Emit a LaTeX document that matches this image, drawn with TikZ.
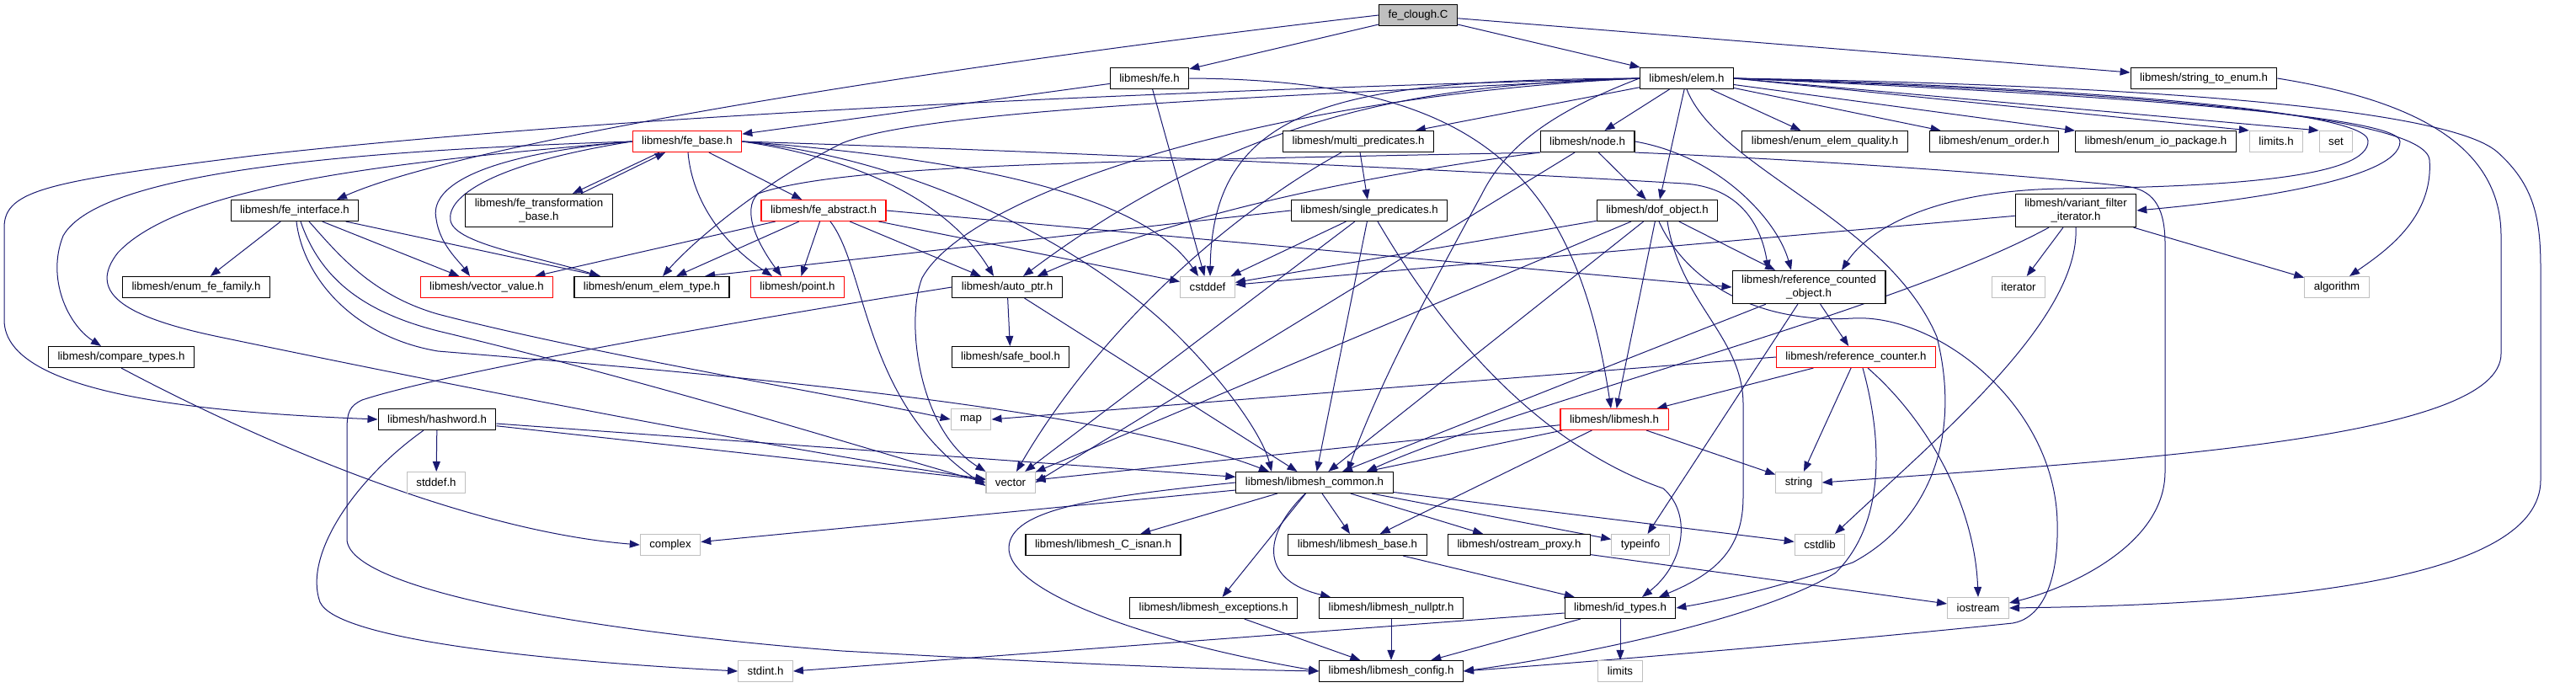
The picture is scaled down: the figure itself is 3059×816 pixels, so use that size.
\documentclass[tikz,border=0pt]{standalone}
\usepackage{fontspec}
\setmainfont{Liberation Sans}
\usepackage{tikz}
\usetikzlibrary{calc, arrows.meta, backgrounds}
\usepackage{xcolor}
\definecolor{edgeNavy}{HTML}{191970}
\definecolor{borderRed}{HTML}{FF0000}
\definecolor{borderGray}{HTML}{BFBFBF}
\definecolor{rootFill}{HTML}{BFBFBF}

\begin{document}
\begin{tikzpicture}[x=1bp, y=-1bp,
    fileBox/.style={draw=black, fill=white, line width=1.1bp, inner xsep=11bp, inner ysep=3bp,
                    minimum height=25bp, align=center, font=\fontsize{13.3}{16}\selectfont},
    redBox/.style={fileBox, draw=borderRed},
    sysBox/.style={fileBox, draw=borderGray},
    rootBox/.style={fileBox, fill=rootFill},
    twoLine/.style={inner ysep=5.5bp},
    dep/.style={draw=edgeNavy, line width=1bp, -{Triangle[length=12bp,width=9bp]}}]
  \useasboundingbox (0,0) rectangle (3059,816);

  \node[rootBox] (clough) at (1684,18) {fe\_clough.C};

  \node[fileBox] (feh) at (1365,93) {libmesh/fe.h};
  \node[fileBox] (elem) at (2003,93) {libmesh/elem.h};
  \node[fileBox] (strenum) at (2617,93) {libmesh/string\_to\_enum.h};

  \node[redBox] (febase) at (816,168) {libmesh/fe\_base.h};
  \node[fileBox] (multipred) at (1613,168) {libmesh/multi\_predicates.h};
  \node[fileBox] (nodeh) at (1885,168) {libmesh/node.h};
  \node[fileBox] (elemqual) at (2167,168) {libmesh/enum\_elem\_quality.h};
  \node[fileBox] (order) at (2368,168) {libmesh/enum\_order.h};
  \node[fileBox] (iopkg) at (2560,168) {libmesh/enum\_io\_package.h};
  \node[sysBox] (limitsh) at (2703,168) {limits.h};
  \node[sysBox] (setinc) at (2774,168) {set};

  \node[fileBox] (feiface) at (350,250) {libmesh/fe\_interface.h};
  \node[fileBox, twoLine] (fetrans) at (640,250) {libmesh/fe\_transformation\\\_base.h};
  \node[redBox] (feabs) at (978,250) {libmesh/fe\_abstract.h};
  \node[fileBox] (singlepred) at (1626,250) {libmesh/single\_predicates.h};
  \node[fileBox] (dofobj) at (1968,250) {libmesh/dof\_object.h};
  \node[fileBox, twoLine] (variant) at (2465,250) {libmesh/variant\_filter\\\_iterator.h};

  \node[fileBox] (fefamily) at (233,341) {libmesh/enum\_fe\_family.h};
  \node[redBox] (vecval) at (578,341) {libmesh/vector\_value.h};
  \node[fileBox] (elemtype) at (774,341) {libmesh/enum\_elem\_type.h};
  \node[redBox] (point) at (947,341) {libmesh/point.h};
  \node[fileBox] (autoptr) at (1196,341) {libmesh/auto\_ptr.h};
  \node[sysBox] (cstddef) at (1434,341) {cstddef};
  \node[fileBox, twoLine] (rcobj) at (2148,341) {libmesh/reference\_counted\\\_object.h};
  \node[sysBox] (iterator) at (2397,341) {iterator};
  \node[sysBox] (algorithm) at (2775,341) {algorithm};

  \node[fileBox] (compare) at (144,424) {libmesh/compare\_types.h};
  \node[fileBox] (safebool) at (1200,424) {libmesh/safe\_bool.h};
  \node[redBox] (refcounter) at (2204,424) {libmesh/reference\_counter.h};

  \node[fileBox] (hashword) at (519,498) {libmesh/hashword.h};
  \node[sysBox] (map) at (1153,498) {map};
  \node[redBox] (libmeshh) at (1917,498) {libmesh/libmesh.h};

  \node[sysBox] (stddefh) at (518,573) {stddef.h};
  \node[sysBox] (vector) at (1200,573) {vector};
  \node[fileBox] (common) at (1561,573) {libmesh/libmesh\_common.h};
  \node[sysBox] (string) at (2136,573) {string};

  \node[sysBox] (complex) at (796,647) {complex};
  \node[fileBox] (isnan) at (1310,647) {libmesh/libmesh\_C\_isnan.h};
  \node[fileBox] (mbase) at (1612,647) {libmesh/libmesh\_base.h};
  \node[fileBox] (ostream) at (1804,647) {libmesh/ostream\_proxy.h};
  \node[sysBox] (typeinfo) at (1948,647) {typeinfo};
  \node[sysBox] (cstdlib) at (2161,647) {cstdlib};

  \node[fileBox] (exceptions) at (1441,722) {libmesh/libmesh\_exceptions.h};
  \node[fileBox] (nullptr) at (1652,722) {libmesh/libmesh\_nullptr.h};
  \node[fileBox] (idtypes) at (1924,722) {libmesh/id\_types.h};
  \node[sysBox] (iostream) at (2349,722) {iostream};

  \node[sysBox] (stdint) at (909,797) {stdint.h};
  \node[fileBox] (config) at (1652,797) {libmesh/libmesh\_config.h};
  \node[sysBox] (limits) at (1924,797) {limits};

  \begin{scope}[on background layer]
    \draw[dep] (clough) -- (feh);
    \draw[dep] (clough) -- (elem);
    \draw[dep] (clough) -- (strenum);
    \draw[dep] (clough.west) .. controls (1100,80) and (550,170) .. ([xshift=50bp]feiface.north);

    \draw[dep] (feh) -- (febase);
    \draw[dep] (feh) -- (cstddef);
    \draw[dep] (feh.east) .. controls (1750,95) and (1870,200) .. ([xshift=-4bp]libmeshh.north);

    \draw[dep] (elem.west) .. controls (1300,110) and (700,140) .. (300,185) .. controls (60,215) and (5,225) .. (5,270)
      -- (5,380) .. controls (5,470) and (250,490) .. (hashword.west);
    \draw[dep] (elem) -- (multipred);
    \draw[dep] (elem) -- (nodeh);
    \draw[dep] (elem) -- (dofobj);
    \draw[dep] (elem) -- (elemqual);
    \draw[dep] (elem) -- (order);
    \draw[dep] (elem) -- (iopkg);
    \draw[dep] (elem.east) -- (limitsh.north west);
    \draw[dep] (elem.east) -- (setinc.north west);
    \draw[dep] (elem.east) .. controls (2450,110) and (2850,135) .. (2850,168) .. controls (2850,215) and (2650,240) .. (variant.east);
    \draw[dep] (elem.east) .. controls (2500,108) and (2880,135) .. (2885,190) .. controls (2890,260) and (2830,300) .. ([xshift=15bp]algorithm.north);
    \draw[dep] (elem.east) .. controls (2450,103) and (2810,130) .. (2812,167) .. controls (2814,210) and (2650,222) .. (2450,224)
      .. controls (2300,226) and (2220,270) .. ([xshift=39bp]rcobj.north);
    \draw[dep] (elem.east) .. controls (2500,100) and (2900,125) .. (2965,180) .. controls (3010,220) and (3017,260) .. (3017,320)
      -- (3017,570) .. controls (3017,690) and (2700,718) .. (iostream.east);
    \draw[dep] (elem.south) .. controls (2040,200) and (2240,260) .. (2300,400) .. controls (2330,520) and (2290,620) .. (2200,668)
      .. controls (2120,695) and (2050,712) .. (idtypes.east);
    \draw[dep] (elem.west) .. controls (1500,115) and (1150,230) .. (1095,330) .. controls (1075,380) and (1090,510) .. (vector.north west);
    \draw[dep] (elem.west) .. controls (1700,100) and (1480,130) .. ([xshift=19bp]autoptr.north);
    \draw[dep] (elem.west) .. controls (1600,95) and (1440,120) .. ([xshift=3bp]cstddef.north);
    \draw[dep] (elem.west) .. controls (1500,115) and (1100,130) .. (1000,170) .. controls (900,220) and (820,290) .. ([xshift=13bp]elemtype.north);
    \draw[dep] (elem.west) .. controls (1850,130) and (1790,170) .. (1760,230) .. controls (1700,340) and (1640,450) .. ([xshift=39bp]common.north);

    \draw[dep] (febase.west) .. controls (450,178) and (120,200) .. (75,280) .. controls (55,330) and (80,385) .. ([xshift=-24bp]compare.north);
    \draw[dep] (febase.west) .. controls (500,190) and (220,215) .. (140,300) .. controls (105,345) and (140,375) .. (260,400)
      .. controls (500,450) and (900,530) .. ([yshift=4bp]vector.west);
    \draw[dep] (febase.west) .. controls (560,185) and (510,225) .. (518,260) .. controls (522,290) and (545,310) .. ([xshift=-20bp]vecval.north);
    \draw[dep] (febase.west) .. controls (580,195) and (530,235) .. (535,262) .. controls (540,290) and (640,305) .. ([xshift=-62bp]elemtype.north);
    \draw[dep] ([xshift=-33bp]febase.south) -- ([xshift=40bp]fetrans.north);
    \draw[dep] ([xshift=50bp]fetrans.north) -- ([xshift=-26bp]febase.south);
    \draw[dep] ([xshift=1bp]febase.south) .. controls (822,240) and (860,290) .. ([xshift=-30bp]point.north);
    \draw[dep] (febase) -- (feabs);
    \draw[dep] (febase.east) .. controls (1000,185) and (1120,230) .. ([xshift=-16bp]autoptr.north);
    \draw[dep] (febase.east) .. controls (1100,185) and (1350,220) .. ([xshift=-11bp]cstddef.north);
    \draw[dep] (febase.east) .. controls (1200,178) and (1700,200) .. (2000,218) .. controls (2060,222) and (2090,260) .. ([xshift=-48bp]rcobj.north);
    \draw[dep] (febase.east) .. controls (1100,190) and (1300,300) .. (1400,400) .. controls (1460,460) and (1500,520) .. ([xshift=-51bp]common.north);

    \draw[dep] (feiface) -- (fefamily);
    \draw[dep] (feiface) -- (vecval);
    \draw[dep] (feiface) -- (elemtype);
    \draw[dep] ([xshift=17bp]feiface.south) .. controls (400,300) and (440,350) .. (520,373) .. controls (700,420) and (1000,470) .. (map.west);
    \draw[dep] ([xshift=7bp]feiface.south) .. controls (380,330) and (430,370) .. (520,393) .. controls (800,460) and (1050,540) .. (vector.west);
    \draw[dep] ([xshift=2bp]feiface.south) .. controls (360,330) and (420,400) .. (520,417) .. controls (800,440) and (1300,480) .. ([xshift=-54bp]common.north);

    \draw[dep] (feabs) -- (vecval);
    \draw[dep] (feabs) -- (elemtype);
    \draw[dep] (feabs) -- (point);
    \draw[dep] (feabs) -- (autoptr);
    \draw[dep] (feabs) -- (cstddef);
    \draw[dep] (feabs.east) -- (rcobj.west);
    \draw[dep] ([xshift=8bp]feabs.south) .. controls (1030,320) and (1025,480) .. ([yshift=-4bp]vector.west);

    \draw[dep] (nodeh.south west) .. controls (1300,192) and (1000,195) .. (900,230) .. controls (880,250) and (900,290) .. ([xshift=-19bp]point.north);
    \draw[dep] (nodeh.south west) .. controls (1650,205) and (1420,245) .. ([xshift=36bp]autoptr.north);
    \draw[dep] ([xshift=-15bp]nodeh.south) -- (vector.east);
    \draw[dep] (nodeh) -- (dofobj);
    \draw[dep] (nodeh.east) .. controls (2040,185) and (2110,260) .. ([xshift=-21bp]rcobj.north);
    \draw[dep] (nodeh.south east) .. controls (2200,192) and (2450,212) .. (2530,222) .. controls (2560,228) and (2571,250) .. (2571,290)
      -- (2571,560) .. controls (2571,650) and (2450,700) .. ([yshift=6bp]iostream.east);

    \draw[dep] (multipred) -- (singlepred);
    \draw[dep] ([xshift=-20bp]multipred.south) .. controls (1450,260) and (1300,400) .. ([xshift=7bp]vector.north);

    \draw[dep] (singlepred.west) -- ([xshift=63bp]elemtype.north);
    \draw[dep] (singlepred) -- (cstddef);
    \draw[dep] (singlepred) -- (vector);
    \draw[dep] (singlepred) -- (common);
    \draw[dep] ([xshift=10bp]singlepred.south) .. controls (1740,440) and (1860,540) .. (1975,580) .. controls (2010,610) and (2000,670) .. ([xshift=26bp]idtypes.north);

    \draw[dep] (dofobj) -- (cstddef);
    \draw[dep] (dofobj) -- (vector);
    \draw[dep] (dofobj) -- (common);
    \draw[dep] (dofobj) -- (libmeshh);
    \draw[dep] (dofobj) -- (rcobj);
    \draw[dep] ([xshift=12bp]dofobj.south) .. controls (1995,360) and (2070,400) .. (2070,480) -- (2070,590)
      .. controls (2070,650) and (2040,680) .. ([xshift=46bp]idtypes.north);
    \draw[dep] ([xshift=2bp]dofobj.south) .. controls (2000,330) and (2080,385) .. (2200,378) .. controls (2300,372) and (2440,480) .. (2443,620)
      .. controls (2445,700) and (2420,735) .. (2390,740) .. controls (2200,760) and (1900,785) .. (config.east);

    \draw[dep] (variant) -- (cstddef);
    \draw[dep] ([xshift=-32bp]variant.south) .. controls (2250,370) and (1800,480) .. ([xshift=62bp]common.north);
    \draw[dep] (variant) -- (iterator);
    \draw[dep] (variant) -- (algorithm);
    \draw[dep] (variant.south) .. controls (2470,380) and (2300,520) .. ([xshift=18bp]cstdlib.north);

    \draw[dep] (rcobj) -- (refcounter);
    \draw[dep] (rcobj) -- (typeinfo);
    \draw[dep] (rcobj) -- (common);

    \draw[dep] (refcounter) -- (string);
    \draw[dep] ([xshift=14bp]refcounter.south) .. controls (2290,500) and (2345,600) .. (iostream.north);
    \draw[dep] (refcounter.west) -- (map.east);
    \draw[dep] (refcounter) -- (libmeshh);
    \draw[dep] ([xshift=8bp]refcounter.south) .. controls (2235,520) and (2240,620) .. (2180,680) .. controls (2100,730) and (1900,775) .. (config.east);

    \draw[dep] (libmeshh) -- (vector);
    \draw[dep] (libmeshh) -- (common);
    \draw[dep] (libmeshh) -- (mbase);
    \draw[dep] (libmeshh) -- (string);

    \draw[dep] (hashword) -- (stddefh);
    \draw[dep] ([xshift=-16bp]hashword.south) .. controls (420,570) and (360,660) .. (380,715) .. controls (400,760) and (650,785) .. (stdint.west);
    \draw[dep] (hashword) -- (vector);
    \draw[dep] (hashword) -- (common);

    \draw[dep] (compare.south) .. controls (300,520) and (550,630) .. (complex.west);

    \draw[dep] (autoptr) -- (safebool);
    \draw[dep] (autoptr) -- (common);
    \draw[dep] (autoptr.west) .. controls (850,385) and (520,445) .. (430,475) .. controls (415,482) and (412,490) .. (412,510)
      -- (412,640) .. controls (412,700) and (700,750) .. (1000,773) .. controls (1300,790) and (1450,795) .. (config.west);

    \draw[dep] (common) -- (complex);
    \draw[dep] (common) -- (isnan);
    \draw[dep] (common) -- (mbase);
    \draw[dep] (common) -- (ostream);
    \draw[dep] (common) -- (typeinfo);
    \draw[dep] (common) -- (cstdlib);
    \draw[dep] (common) -- (exceptions);
    \draw[dep] ([xshift=-11bp]common.south) .. controls (1495,640) and (1500,690) .. ([xshift=-72bp]nullptr.north);
    \draw[dep] (common.west) .. controls (1300,590) and (1200,605) .. (1198,650) .. controls (1196,700) and (1350,760) .. (config.west);

    \draw[dep] (mbase) -- (idtypes);
    \draw[dep] (ostream) -- (iostream);
    \draw[dep] (exceptions) -- (config);
    \draw[dep] (nullptr) -- (config);
    \draw[dep] (idtypes) -- (config);
    \draw[dep] (idtypes) -- (limits);
    \draw[dep] ([yshift=-6bp]idtypes.west) -- (stdint.east);

    \draw[dep] (strenum.east) .. controls (2840,115) and (2970,160) .. (2970,280) -- (2970,420)
      .. controls (2970,520) and (2550,545) .. (string.east);
  \end{scope}
\end{tikzpicture}
\end{document}
